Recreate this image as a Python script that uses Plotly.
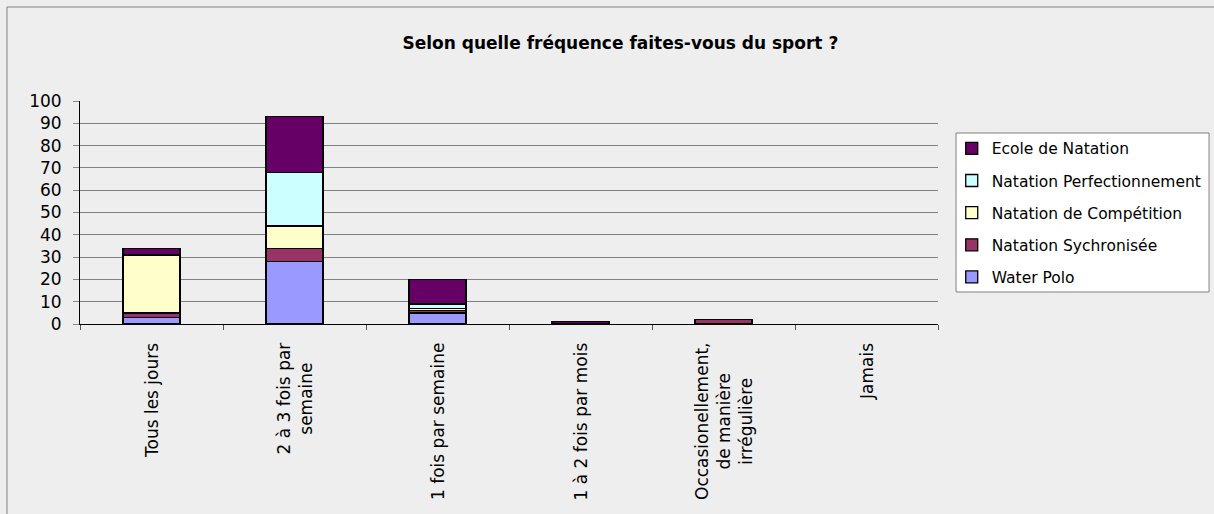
import plotly.graph_objects as go

categories = ["Tous les jours", "2 à 3 fois par semaine", "1 fois par semaine",
              "1 à 2 fois par mois", "Occasionellement, de manière irrégulière", "Jamais"]
category_labels = ["Tous les jours", "2 à 3 fois par<br>semaine", "1 fois par semaine",
                   "1 à 2 fois par mois", "Occasionellement,<br>de manière<br>irrégulière", "Jamais"]

water_polo = [3, 28, 5, 0, 0, 0]
synchro = [2, 6, 1, 0, 2, 0]
competition = [26, 10, 1, 0, 0, 0]
perfectionnement = [0, 24, 2, 0, 0, 0]
ecole = [3, 25, 11, 1, 0, 0]

series = [
    ("Water Polo", water_polo, "#9999FF"),
    ("Natation Sychronisée", synchro, "#993366"),
    ("Natation de Compétition", competition, "#FFFFCC"),
    ("Natation Perfectionnement", perfectionnement, "#CCFFFF"),
    ("Ecole de Natation", ecole, "#660066"),
]

title_text = "Selon quelle fréquence faites-vous du sport ?"
y_ticks = list(range(0, 101, 10))

FONT = "DejaVu Sans"
BG = "#EEEEEE"

fig = go.Figure()
n = len(series)
for i, (name, vals, color) in enumerate(series):
    # zero-valued segments are not drawn (Excel shows no mark for them)
    shown = [v if v else None for v in vals]
    fig.add_trace(go.Bar(
        x=categories, y=shown, name=name, legendgroup=name, legendrank=n - i,
        marker=dict(color=color, line=dict(color="black", width=1.3)),
    ))

for cat, lab in zip(categories, category_labels):
    fig.add_annotation(
        x=cat, y=0, xref="x", yref="paper", yshift=-17,
        text=lab, textangle=-90, xanchor="center", yanchor="top",
        align="center", showarrow=False,
        font=dict(family=FONT, size=17, color="black"),
    )

fig.update_layout(
    width=1214, height=514,
    margin=dict(l=80, r=276, t=101, b=190, autoexpand=False),
    paper_bgcolor=BG, plot_bgcolor=BG,
    barmode="stack", bargap=0.6,
    font=dict(family=FONT, size=17, color="black"),
    title=dict(text="<b>" + title_text + "</b>", x=0.511, xref="container", xanchor="center",
               y=1 - 43 / 514, yref="container", yanchor="middle",
               font=dict(family=FONT, size=17, color="black")),
    xaxis=dict(showticklabels=False, ticks="outside", tickson="boundaries", ticklen=5,
               tickcolor="#555555", showline=True, linecolor="black", linewidth=1,
               showgrid=False, zeroline=False, fixedrange=True),
    yaxis=dict(range=[0, 100], tickvals=y_ticks, ticks="outside", ticklen=6, tickcolor="#888888",
               showline=True, linecolor="black", linewidth=1, showgrid=True,
               gridcolor="#808080", gridwidth=1, zeroline=False, ticklabelstandoff=8,
               tickfont=dict(family=FONT, size=17, color="black")),
    legend=dict(x=1.016, xanchor="left", y=0.862, yanchor="top",
                traceorder="grouped", tracegroupgap=9,
                bgcolor="rgba(0,0,0,0)", borderwidth=0,
                font=dict(family=FONT, size=15.5, color="black")),
    shapes=[
        dict(type="rect", xref="paper", yref="paper", x0=-0.0851, x1=1.5, y0=-1.0, y1=1.4215,
             line=dict(color="#808080", width=1), fillcolor="rgba(0,0,0,0)", layer="below"),
        dict(type="rect", xref="paper", yref="paper", x0=1.021, x1=1.3159, y0=0.1435, y1=0.8565,
             line=dict(color="#808080", width=1), fillcolor="white", layer="below"),
    ],
)

fig.write_html("out.html", config={"displayModeBar": False},
               post_script="document.body.style.margin='0';")
